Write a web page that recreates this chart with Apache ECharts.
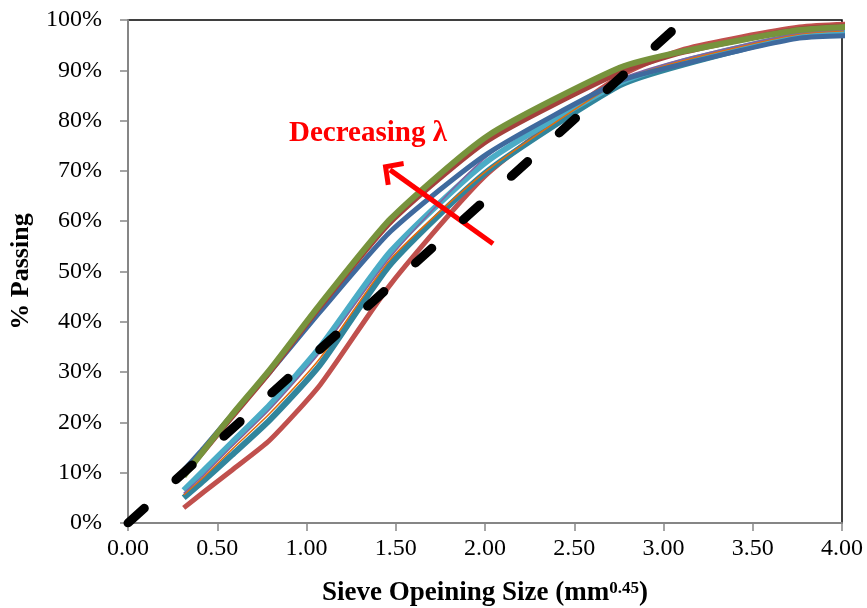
<!DOCTYPE html>
<html>
<head>
<meta charset="utf-8">
<script src="https://cdn.jsdelivr.net/npm/echarts@6/dist/echarts.min.js"></script>
<style>html,body{margin:0;padding:0;background:#fff}#c{width:867px;height:608px}</style>
</head>
<body>
<div id="c"></div>
<script>
// Sieve opening sizes raised to 0.45 power (0.075 ... 25 mm)
var sieveX = [0.312, 0.426, 0.582, 0.795, 1.077, 1.472, 2.016, 2.754, 3.116, 3.762, 4.257];
var xTicks = ['0.00','0.50','1.00','1.50','2.00','2.50','3.00','3.50','4.00'];
var yTicks = ['0%','10%','20%','30%','40%','50%','60%','70%','80%','90%','100%'];

var redVals      = [3.0, 6.2, 10.5, 16.5, 27.5, 47.5, 69.5, 88.8, 94.2, 98.6, 99.4];
var darkTealVals = [5.0, 8.5, 13.5, 20.5, 31.5, 51.5, 70.0, 87.0, 91.2, 96.8, 97.8];
var tealVals     = [6.5, 10.5, 16.0, 23.5, 35.0, 54.0, 72.0, 87.5, 91.8, 97.0, 98.0];
var orangeVals   = [5.6, 9.2, 14.6, 21.8, 32.8, 52.5, 70.2, 87.8, 92.0, 97.2, 98.2];
var purpleVals   = [5.9, 9.6, 15.2, 22.6, 34.0, 53.0, 73.0, 88.2, 92.3, 97.4, 98.3];
var blueVals     = [10.5, 15.0, 21.5, 30.0, 42.0, 58.0, 73.5, 87.8, 91.3, 96.4, 97.0];
var brownVals    = [9.6, 14.3, 21.0, 30.0, 43.0, 59.8, 76.0, 89.5, 93.6, 98.2, 99.2];
var greenVals    = [9.3, 14.5, 21.5, 30.5, 43.5, 60.5, 77.0, 90.5, 93.8, 98.0, 99.0];

var maxDensityX = [0, 3.116];
var maxDensityY = [0, 100];

var arrowFrom = [2.045, 55.5];
var arrowTo = [1.468, 70.2];

function pairs(xs, ys){ return xs.map(function(x,i){ return [x, ys[i]]; }); }

var FONT = '"Liberation Serif","Times New Roman",serif';

function lineSeries(name, vals, color, width){
  return {
    name: name, type: 'line', data: pairs(sieveX, vals),
    smooth: 0.2, showSymbol: false, symbol: 'none',
    lineStyle: { color: color, width: width },
    itemStyle: { color: color },
    z: 3
  };
}

var chart = echarts.init(document.getElementById('c'));
chart.setOption({
  animation: false,
  backgroundColor: '#fff',
  grid: { left: 128, right: 25, top: 20, bottom: 85, containLabel: false, outerBoundsMode: 'none',
    show: true, borderColor: '#000', borderWidth: 1.5, backgroundColor: 'transparent' },
  xAxis: {
    type: 'value', min: 0, max: 4, interval: 0.5,
    axisLine: { show: true, lineStyle: { color: '#868686', width: 2 } },
    axisTick: { show: true, inside: false, length: 8, lineStyle: { color: '#868686', width: 1.5 } },
    splitLine: { show: false },
    axisLabel: { color: '#000', fontFamily: FONT, fontSize: 24, margin: 14,
      formatter: function(v){ return xTicks[Math.round(v/0.5)]; } },
    name: '{b|Sieve Opeining Size (mm}{s|0.45}{b|)}',
    nameLocation: 'middle', nameGap: 57,
    nameTextStyle: { rich: {
      b: { fontFamily: FONT, fontWeight: 'bold', fontSize: 27, color: '#000' },
      s: { fontFamily: FONT, fontWeight: 'bold', fontSize: 17, color: '#000', verticalAlign: 'top', padding: [0,0,10,0] }
    } }
  },
  yAxis: {
    type: 'value', min: 0, max: 100, interval: 10,
    axisLine: { show: true, lineStyle: { color: '#868686', width: 2 } },
    axisTick: { show: true, inside: false, length: 8, lineStyle: { color: '#868686', width: 1.5 } },
    splitLine: { show: false },
    axisLabel: { color: '#000', fontFamily: FONT, fontSize: 24, margin: 26,
      formatter: function(v){ return yTicks[Math.round(v/10)]; } },
    name: '% Passing', nameLocation: 'middle', nameGap: 94, nameRotate: 90,
    nameTextStyle: { fontFamily: FONT, fontWeight: 'bold', fontSize: 26, color: '#000' }
  },
  series: [
    lineSeries('red', redVals, '#C0504D', 5),
    lineSeries('darkTeal', darkTealVals, '#31859C', 6),
    lineSeries('teal', tealVals, '#4BACC6', 6),
    lineSeries('orange', orangeVals, '#E46C0A', 1.5),
    lineSeries('purple', purpleVals, '#8064A2', 1.5),
    lineSeries('blue', blueVals, '#3F6A9E', 5),
    lineSeries('brown', brownVals, '#A4403C', 5),
    lineSeries('green', greenVals, '#77933C', 6),
    {
      name: 'maxDensity', type: 'line', data: pairs(maxDensityX, maxDensityY),
      showSymbol: false, symbol: 'none', z: 5,
      lineStyle: { color: '#000', width: 9, type: [22, 42.6], cap: 'round' },
      markLine: {
        silent: true, animation: false,
        symbol: ['none', 'path://M50,0 L100,50 L88,62 L50,24 L12,62 L0,50 Z'],
        symbolSize: [30, 18],
        lineStyle: { color: '#FF0000', width: 5, type: 'solid' },
        label: { show: false },
        data: [[ { coord: arrowFrom }, { coord: arrowTo } ]]
      }
    }
  ],
  graphic: [
    { type: 'text', left: 289, top: 119, z: 10,
      style: { text: 'Decreasing λ', fill: '#FF0000', font: 'bold 29px ' + FONT } }
  ]
});
</script>
</body>
</html>
